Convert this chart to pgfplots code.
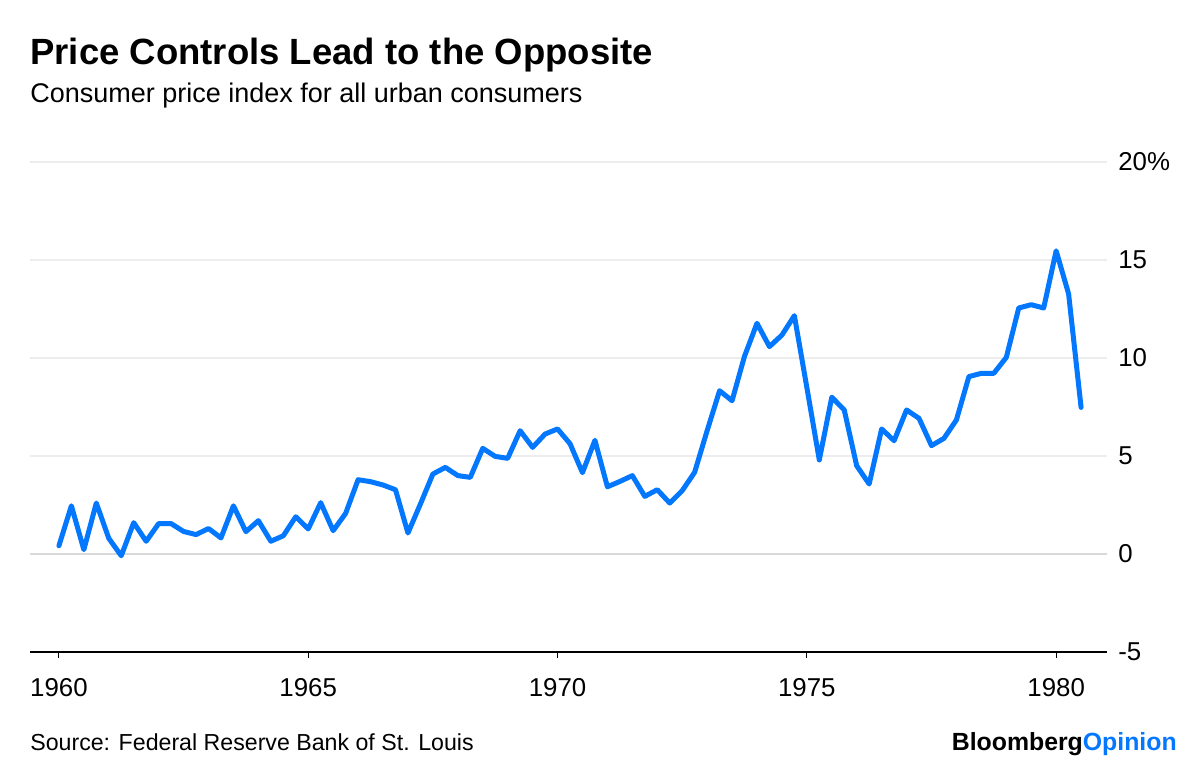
\documentclass[border=0pt]{standalone}
\usepackage{pgfplots}
\pgfplotsset{compat=1.18}
\usepackage{fontspec}
\setmainfont{Liberation Sans}
\definecolor{bbblue}{HTML}{0477FF}
\definecolor{gridgray}{HTML}{EDEDED}
\begin{document}
% 1 px of the reference = 0.6pt
\begin{tikzpicture}[x=1pt,y=1pt]
\path (0,0) rectangle (720,460.8);
\begin{axis}[
  at={(18pt,69.6pt)}, anchor=south west,
  scale only axis, width=646.2pt, height=294pt,
  xmin=1959.42, xmax=1981.02, ymin=-5, ymax=20,
  axis x line*=bottom, axis y line*=right,
  x axis line style={black, line width=0.8pt, -},
  y axis line style={draw=none},
  xtick={1960,1965,1970,1975,1980},
  xtick align=outside, major tick length=3.6pt,
  xtick style={black, line width=0.6pt},
  xticklabel style={/pgf/number format/1000 sep=, font=\fontsize{15.5}{18}\selectfont, inner sep=0pt, yshift=-12pt},
  ytick={-5,0,5,10,15,20},
  yticklabels={-5,0,5,10,15,20\%},
  ytick style={draw=none},
  yticklabel style={anchor=west, inner sep=0pt, xshift=6.6pt, font=\fontsize{15.5}{18}\selectfont},
  ymajorgrids, major grid style={gridgray, line width=0.9pt},
  /pgf/number format/assume math mode=true,
  clip=false,
]
\addplot[gray!30, line width=0.9pt, forget plot] coordinates {(1959.42,0) (1981.02,0)};
\addplot[bbblue, line width=3pt, line join=round, line cap=round] coordinates {
(1960.00,0.42) (1960.25,2.46) (1960.50,0.22) (1960.75,2.60)
(1961.00,0.80) (1961.25,-0.09) (1961.50,1.60) (1961.75,0.65)
(1962.00,1.55) (1962.25,1.55) (1962.50,1.15) (1962.75,0.99)
(1963.00,1.30) (1963.25,0.82) (1963.50,2.46) (1963.75,1.14)
(1964.00,1.70) (1964.25,0.65) (1964.50,0.93) (1964.75,1.90)
(1965.00,1.28) (1965.25,2.62) (1965.50,1.19) (1965.75,2.07)
(1966.00,3.79) (1966.25,3.69) (1966.50,3.52) (1966.75,3.28)
(1967.00,1.07) (1967.25,2.55) (1967.50,4.08) (1967.75,4.42)
(1968.00,4.00) (1968.25,3.91) (1968.50,5.39) (1968.75,4.98)
(1969.00,4.88) (1969.25,6.29) (1969.50,5.44) (1969.75,6.12)
(1970.00,6.38) (1970.25,5.63) (1970.50,4.15) (1970.75,5.80)
(1971.00,3.43) (1971.25,3.70) (1971.50,4.00) (1971.75,2.94)
(1972.00,3.28) (1972.25,2.60) (1972.50,3.23) (1972.75,4.17)
(1973.00,6.29) (1973.25,8.33) (1973.50,7.82) (1973.75,10.09)
(1974.00,11.77) (1974.25,10.58) (1974.50,11.17) (1974.75,12.16)
(1975.00,8.50) (1975.25,4.80) (1975.50,8.00) (1975.75,7.35)
(1976.00,4.50) (1976.25,3.57) (1976.50,6.38) (1976.75,5.78)
(1977.00,7.35) (1977.25,6.92) (1977.50,5.53) (1977.75,5.90)
(1978.00,6.84) (1978.25,9.05) (1978.50,9.22) (1978.75,9.22)
(1979.00,10.03) (1979.25,12.55) (1979.50,12.72) (1979.75,12.55)
(1980.00,15.47) (1980.25,13.27) (1980.50,7.48)
};
\end{axis}
\node[anchor=base west, inner sep=0pt, font=\fontsize{21.9}{26}\selectfont\bfseries] at (18,421.8) {Price Controls Lead to the Opposite};
\node[anchor=base west, inner sep=0pt, font=\fontsize{16.2}{19}\selectfont] at (18,399) {Consumer price index for all urban consumers};
\node[anchor=base west, inner sep=0pt, font=\fontsize{13.9}{16}\selectfont] at (18,10.8) {Source: Federal Reserve Bank of St. Louis};
\node[anchor=base east, inner sep=0pt, font=\fontsize{14.9}{17}\selectfont\bfseries] at (706.2,10.8) {Bloomberg\textcolor{bbblue}{Opinion}};
\end{tikzpicture}
\end{document}
